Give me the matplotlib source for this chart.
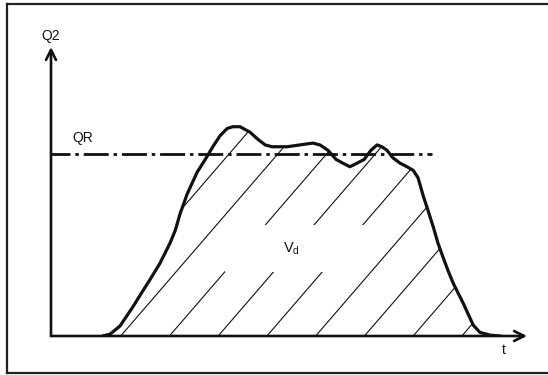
import numpy as np
import matplotlib
matplotlib.use('Agg')
import matplotlib.pyplot as plt
from matplotlib.lines import Line2D
from matplotlib.patches import Rectangle

plt.rcParams['font.family'] = ['Liberation Sans', 'DejaVu Sans']
plt.rcParams['mathtext.default'] = 'regular'
plt.rcParams['lines.scale_dashes'] = False

# hydrograph Q2(t), arbitrary units (QR = 1)
t = [1.09, 1.24, 1.45, 1.72, 1.91, 2.08, 2.29, 2.50, 2.61, 2.71, 2.86, 3.07,
     3.24, 3.40, 3.55, 3.70, 3.82, 3.97, 4.18, 4.35, 4.50, 4.64, 4.96, 5.23,
     5.50, 5.65, 5.82, 5.99, 6.13, 6.28, 6.43, 6.58, 6.72, 6.85, 6.95, 7.06,
     7.18, 7.33, 7.48, 7.61, 7.71, 7.82, 7.92, 8.03, 8.13, 8.24, 8.34, 8.45,
     8.66, 8.87, 9.01, 9.22, 9.43]
q2 = [0.0, 0.01, 0.055, 0.16, 0.24, 0.31, 0.40, 0.51, 0.58, 0.67, 0.78, 0.90,
      0.97, 1.04, 1.10, 1.14, 1.15, 1.15, 1.12, 1.08, 1.05, 1.04, 1.04, 1.05,
      1.06, 1.05, 1.02, 0.97, 0.95, 0.93, 0.95, 0.97, 1.02, 1.05, 1.04, 1.02,
      0.98, 0.95, 0.93, 0.91, 0.87, 0.77, 0.69, 0.60, 0.51, 0.43, 0.36, 0.29,
      0.18, 0.06, 0.02, 0.005, 0.0]
q_ref = 1.0

W, H = 548, 375
fig = plt.figure(figsize=(W / 100, H / 100), dpi=100)
ax = fig.add_axes([51 / W, 39 / H, 476 / W, 289 / H])
ax.set_xlim(0, 10)
ax.set_ylim(0, 1.588)
ax.axis('off')

ink = '#111111'

# outer frame (right edge falls off the sheet)
for xs, ys in [([7, W], [371, 371]), ([7, 7], [2, 371]), ([7, W], [2, 2])]:
    fig.add_artist(Line2D(np.array(xs) / W, np.array(ys) / H,
                          color='#222222', lw=1.6, transform=fig.transFigure))

# axes with open arrowheads
ax.annotate('', xy=(0, 1.0), xytext=(0, 0), xycoords='axes fraction',
            arrowprops=dict(arrowstyle='->', lw=1.9, color=ink,
                            mutation_scale=18, shrinkA=0, shrinkB=0))
ax.annotate('', xy=(1.0, 0), xytext=(0, 0), xycoords='axes fraction',
            arrowprops=dict(arrowstyle='->', lw=1.9, color=ink,
                            mutation_scale=18, shrinkA=0, shrinkB=0))

# hatching of the volume under the curve
region = ax.fill(t, q2, facecolor='none', edgecolor='none')[0]
slope = 0.303
for c in np.arange(0.44, 9.5, 1.024):
    ln, = ax.plot([c, c + 1.7 / slope], [0, 1.7], color=ink, lw=0.8,
                  solid_capstyle='butt')
    ln.set_clip_path(region)

# gap in the hatching around the label
ax.add_patch(Rectangle((3.66, 0.35), 3.05, 0.26, facecolor='white',
                       edgecolor='none', zorder=3))

ax.plot(t, q2, color=ink, lw=2.3, zorder=5, solid_joinstyle='round')

ax.plot([-0.13, 8.0], [q_ref, q_ref], color=ink, lw=2.0,
        linestyle=(0, (18, 3.5, 2.5, 3.5)), zorder=4)

ax.text(0, 1.61, 'Q2', fontsize=10, ha='center', va='bottom', color=ink)
ax.text(0.67, 1.09, 'QR', fontsize=10, ha='center', va='center', color=ink)
ax.text(5.06, 0.48, 'V$_d$', fontsize=10.5, ha='center', va='center',
        color=ink, zorder=6)
ax.text(9.52, -0.077, 't', fontsize=10, ha='center', va='center', color=ink,
        clip_on=False)

fig.savefig('out.png', dpi=100, facecolor='white')
